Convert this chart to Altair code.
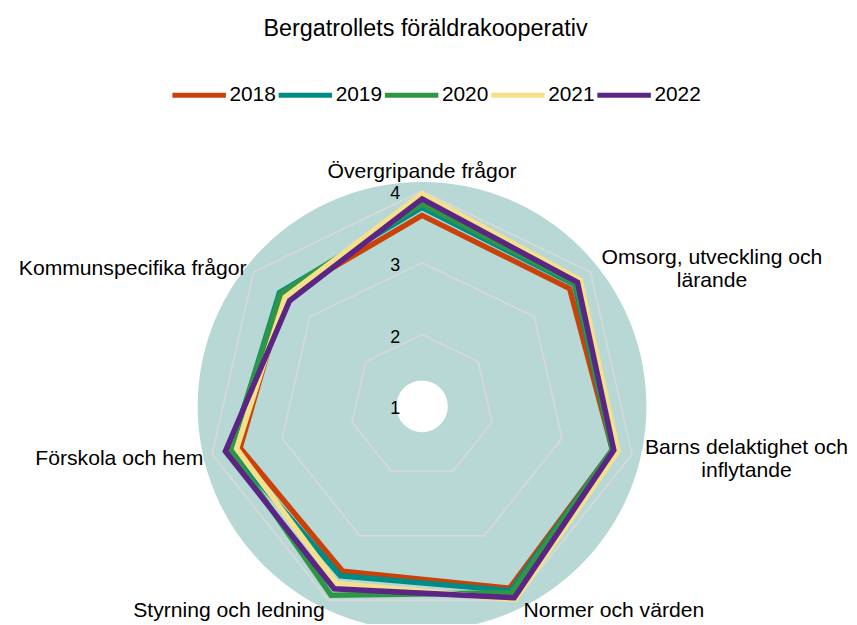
import math
import altair as alt
import pandas as pd

# ---------------- data ----------------
categories = [
    "Övergripande frågor",
    "Omsorg, utveckling och lärande",
    "Barns delaktighet och inflytande",
    "Normer och värden",
    "Styrning och ledning",
    "Förskola och hem",
    "Kommunspecifika frågor",
]
category_labels = [
    "Övergripande frågor",
    "Omsorg, utveckling och\nlärande",
    "Barns delaktighet och\ninflytande",
    "Normer och värden",
    "Styrning och ledning",
    "Förskola och hem",
    "Kommunspecifika frågor",
]
years = ["2018", "2019", "2020", "2021", "2022"]
v2018 = [3.66, 3.63, 3.72, 3.81, 3.55, 3.60, 3.46]
v2019 = [3.77, 3.72, 3.72, 3.85, 3.62, 3.73, 3.54]
v2020 = [3.82, 3.74, 3.72, 3.88, 3.92, 3.74, 3.52]
v2021 = [3.96, 3.82, 3.80, 3.99, 3.74, 3.65, 3.44]
v2022 = [3.89, 3.77, 3.74, 3.96, 3.82, 3.81, 3.36]
series = [v2018, v2019, v2020, v2021, v2022]
grid_levels = [2, 3, 4]
tick_values = [1, 2, 3, 4]
colors = ["#C8420A", "#008C84", "#2E9645", "#F5E08C", "#5B2586"]

# ---------------- layout / style ----------------
FONT = "Liberation Sans"
W, H = 841, 559            # plot area
PAD = {"top": 50, "left": 0, "right": 6, "bottom": 7}
U = 72.3                   # px per value unit
CX, CY = 417, 349          # centre of radar in plot px
XDOM = [-CX / U, (W - CX) / U]
YDOM = [-(H - CY) / U, CY / U]
R_MIN = 1                  # value at centre
DISK_R = 226
HOLE_R = 26
LABEL_R = 226 / U
LABEL_FS = 21.3
LINE_H = 23
TEXT_DY = 3
RIGHT_DX = 4

# Arial / Liberation Sans advance widths (em/1000) for width estimates
ADV = {" ": 278, ",": 278, "a": 556, "b": 556, "c": 500, "d": 556, "e": 556,
       "f": 278, "g": 556, "h": 556, "i": 222, "j": 222, "k": 500, "l": 222,
       "m": 833, "n": 556, "o": 556, "p": 556, "q": 556, "r": 333, "s": 500,
       "t": 278, "u": 556, "v": 500, "w": 722, "x": 500, "y": 500, "z": 500,
       "ä": 556, "å": 556, "ö": 556, "O": 778, "Ö": 778, "B": 667, "N": 722,
       "S": 667, "K": 667, "F": 611}
N = len(categories)


def text_width(s, fs):
    return sum(ADV.get(ch, 556) for ch in s) / 1000 * fs


def ang(k):
    return 2 * math.pi * k / N


rows = []
for yr, vals in zip(years, series):
    for k, v in enumerate(vals):
        r = v - R_MIN
        rows.append({"year": yr, "idx": k, "cat": categories[k], "value": v,
                     "x": r * math.sin(ang(k)), "y": r * math.cos(ang(k))})
df = pd.DataFrame(rows)

grows = []
for lv in grid_levels:
    for k in range(N):
        r = lv - R_MIN
        grows.append({"level": lv, "idx": k,
                      "x": r * math.sin(ang(k)), "y": r * math.cos(ang(k))})
gdf = pd.DataFrame(grows)

tdf = pd.DataFrame([{"t": str(v), "x": 0.0, "y": v - R_MIN} for v in tick_values])

lrows = []
for k, lab in enumerate(category_labels):
    s, c = math.sin(ang(k)), math.cos(ang(k))
    ax, ay = LABEL_R * s, LABEL_R * c
    multiline = "\n" in lab
    if abs(s) < 0.3:
        kind = "top"
    elif multiline:
        kind = "center"
        hw = max(text_width(p, LABEL_FS) for p in lab.split("\n")) / 2 / U
        ax += hw if s > 0 else -hw
    else:
        kind = "left" if s > 0 else "right"
    lrows.append({"label": lab, "x": ax, "y": ay, "kind": kind})
ldf = pd.DataFrame(lrows)

disk_df = pd.DataFrame([{"x": 0.0, "y": 0.0}])

xs = alt.X("x:Q", scale=alt.Scale(domain=XDOM, nice=False, zero=False), axis=None)
ys = alt.Y("y:Q", scale=alt.Scale(domain=YDOM, nice=False, zero=False), axis=None)

# symbol size is the area of the bounding square: (2r)^2
disk = alt.Chart(disk_df).mark_point(
    filled=True, shape="circle", size=(2 * DISK_R) ** 2,
    color="#B8D8D5", opacity=1, strokeWidth=0
).encode(x=xs, y=ys)

hole = alt.Chart(disk_df).mark_point(
    filled=True, shape="circle", size=(2 * HOLE_R) ** 2,
    color="white", opacity=1, strokeWidth=0
).encode(x=xs, y=ys)

grid = alt.Chart(gdf).mark_line(
    interpolate="linear-closed", color="#D9D9D9", strokeWidth=1.6
).encode(x=xs, y=ys, detail="level:N", order="idx:Q")

color_enc = alt.Color(
    "year:N",
    scale=alt.Scale(domain=years, range=colors),
    legend=alt.Legend(
        orient="none", legendX=163, legendY=6, direction="horizontal",
        title=None, symbolType="stroke", symbolStrokeWidth=5,
        symbolSize=2900, labelFontSize=21, labelFont=FONT,
        labelColor="black", labelOffset=1, columnPadding=-60, padding=0,
    ),
)

lines = []
for yr in years:
    lines.append(
        alt.Chart(df).transform_filter(alt.datum.year == yr).mark_line(
            interpolate="linear-closed", strokeWidth=5.5, strokeJoin="miter"
        ).encode(x=xs, y=ys, color=color_enc, order="idx:Q")
    )

ticks = alt.Chart(tdf).mark_text(
    align="right", baseline="middle", dx=-22, dy=TEXT_DY, fontSize=18,
    font=FONT, color="black"
).encode(x=xs, y=ys, text="t:N")


def label_layer(kind, align, baseline, dx=0.0, dy=0.0):
    return alt.Chart(ldf).transform_filter(alt.datum.kind == kind).mark_text(
        align=align, baseline=baseline, fontSize=LABEL_FS, font=FONT,
        color="black", lineBreak="\n", lineHeight=LINE_H, dx=dx, dy=dy
    ).encode(x=xs, y=ys, text="label:N")


labels = [
    label_layer("top", "center", "bottom"),
    label_layer("center", "center", "middle", dx=RIGHT_DX, dy=-LINE_H / 2 + TEXT_DY),
    label_layer("left", "left", "middle", dx=RIGHT_DX, dy=TEXT_DY),
    label_layer("right", "right", "middle", dy=TEXT_DY),
]

chart = alt.layer(disk, hole, grid, *lines, ticks, *labels).properties(
    width=W, height=H,
    autosize=alt.AutoSizeParams(type="none"),
    padding=PAD,
    background="white",
    title=alt.TitleParams(
        "Bergatrollets föräldrakooperativ", anchor="middle", fontSize=23.5,
        font=FONT, fontWeight="normal", color="black", offset=19,
    ),
).configure_view(stroke=None)

chart.save("out.html", embed_options={"renderer": "svg", "actions": False})
